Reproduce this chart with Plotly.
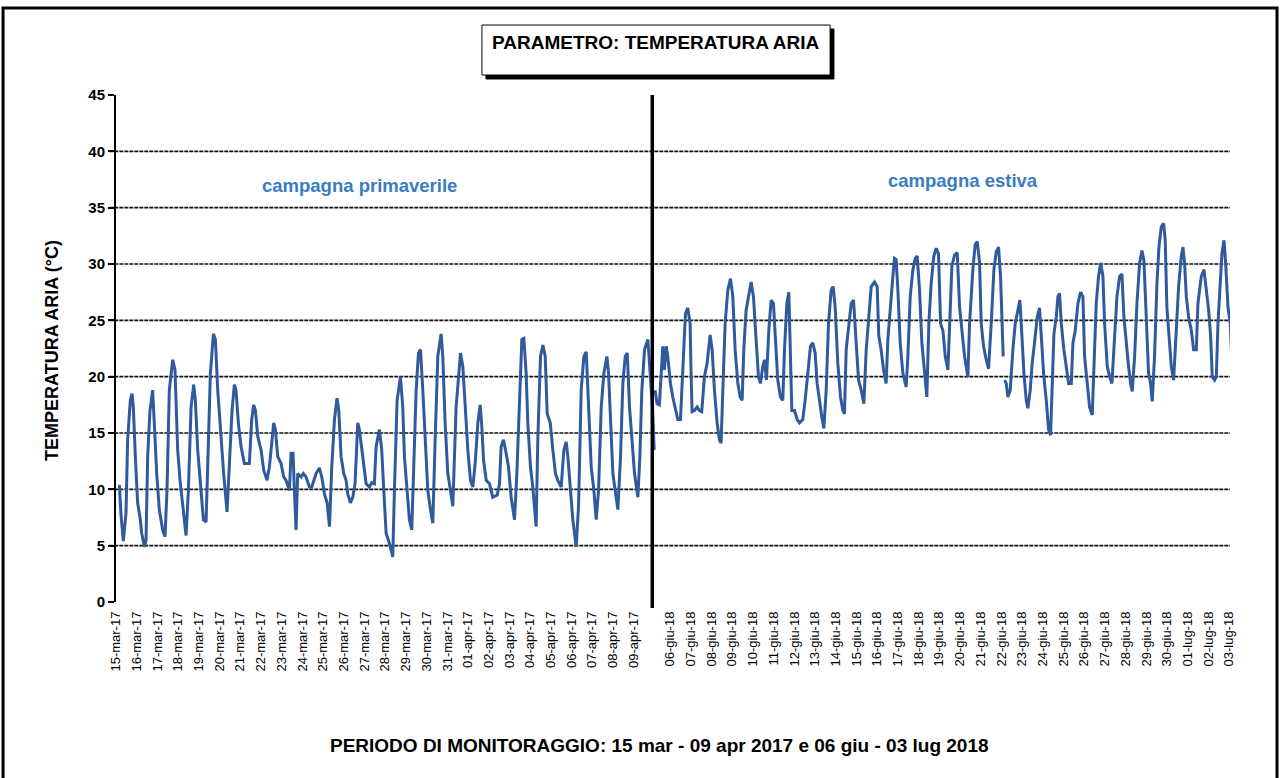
import plotly.graph_objects as go

# ---------------- data ----------------
# spring campaign: hours since 15-mar-2017 00:00, air temperature (°C)
spring_h = [3.9, 5.8, 8.5, 11.6, 13.5, 16.6, 18.6, 20.1, 22.4, 25.1, 28.2, 29.8, 32.9, 34.8, 36.7, 39.4,
            42.5, 44.4, 47.2, 50.2, 54.1, 56.8, 59.1, 61.8, 65.7, 68.4, 71.5, 74.2, 77.3, 81.2, 83.9, 87.0,
            90.1, 92.0, 94.7, 97.4, 101.3, 104.4, 106.3, 109.4, 112.9, 115.2, 117.9, 121.7, 124.8, 128.7,
            131.4, 134.5, 137.2, 139.1, 141.8, 144.9, 148.8, 154.6, 157.3, 159.6, 161.6, 164.3, 168.1,
            171.2, 175.1, 177.8, 180.5, 182.8, 184.7, 187.5, 191.3, 194.4, 197.1, 201.0, 202.9, 205.2,
            206.8, 208.7, 210.6, 214.5, 217.2, 220.3, 224.2, 226.9, 231.9, 235.8, 238.5, 241.6, 244.7,
            247.4, 250.1, 253.2, 256.2, 258.2, 260.9, 264.0, 266.7, 268.6, 271.7, 274.4, 277.1, 280.2,
            282.1, 286.0, 289.9, 293.7, 296.5, 299.5, 301.5, 305.3, 308.0, 310.4, 313.1, 316.9, 320.8,
            322.7, 325.8, 329.7, 332.4, 334.3, 337.0, 340.1, 342.8, 345.1, 347.9, 350.6, 352.9, 355.6,
            358.3, 361.4, 364.5, 367.2, 369.9, 373.0, 376.8, 378.8, 381.5, 384.6, 387.7, 390.4, 394.2,
            396.9, 399.3, 402.0, 404.7, 407.8, 410.9, 413.6, 416.3, 419.4, 422.1, 424.0, 426.0, 429.1,
            432.9, 436.7, 441.8, 444.5, 446.4, 449.1, 452.2, 454.9, 458.0, 461.9, 464.6, 467.7, 470.4,
            472.7, 475.4, 477.3, 480.4, 483.1, 487.0, 488.9, 492.0, 494.8, 497.5, 499.8, 503.3, 506.3,
            509.4, 512.1, 516.0, 519.1, 521.8, 523.7, 526.4, 529.5, 533.4, 536.1, 539.2, 542.3, 545.0,
            547.7, 550.8, 553.9, 556.6, 559.3, 562.4, 565.5, 569.0, 570.9, 573.3, 575.9, 578.6, 581.7,
            584.8, 587.5, 590.2, 592.6, 595.2, 597.9, 601.0, 604.9, 607.2, 609.5, 612.6, 616.5, 618.4,
            620.3, 622.0, 623.8]
spring_t = [10.4, 7.7, 5.4, 7.9, 14.4, 17.9, 18.5, 17.3, 12.9, 8.8, 7.3, 6.1, 4.9, 5.5, 12.9, 17.0,
            18.8, 15.9, 11.4, 8.2, 6.4, 5.8, 9.9, 18.8, 21.5, 20.6, 13.5, 10.8, 8.8, 5.9, 9.9, 17.3,
            19.3, 17.9, 13.5, 10.8, 7.3, 7.1, 11.4, 20.3, 23.8, 23.3, 18.8, 14.4, 11.4, 8.0,
            12.9, 17.0, 19.3, 18.8, 15.9, 13.8, 12.3, 12.3, 16.2, 17.5, 17.0, 14.7, 13.5,
            11.7, 10.8, 12.0, 14.1, 15.9, 15.3, 12.9, 12.3, 11.1, 10.8, 9.9, 13.2, 13.2,
            9.9, 6.4, 11.4, 11.1, 11.4, 11.1, 10.2, 10.2, 11.4, 11.9, 11.1, 9.6, 8.8,
            6.7, 12.0, 16.2, 18.1, 17.0, 12.9, 11.4, 10.8, 9.6, 8.8, 9.3, 10.5, 15.9,
            15.3, 12.9, 10.5, 10.2, 10.6, 10.5, 13.8, 15.3, 13.5, 9.9, 6.1, 5.2, 4.0,
            9.9, 17.9, 20.0, 17.3, 12.9, 9.9, 7.3, 6.4, 11.4, 18.8, 22.1, 22.4, 18.8,
            14.4, 9.9, 8.2, 7.0, 14.4, 21.8, 23.8, 21.8, 15.9, 11.4, 9.9, 8.5, 17.3,
            20.3, 22.1, 20.9, 17.3, 13.5, 10.8, 10.2, 12.3, 15.9, 17.5, 15.6, 12.6, 10.8,
            10.5, 9.3, 9.5, 10.5, 13.8, 14.4, 13.2, 12.0, 9.3, 7.3, 11.4, 18.8, 23.3,
            23.4, 20.3, 15.9, 12.0, 10.2, 6.7, 14.4, 21.8, 22.8, 21.8, 16.7, 15.9, 13.5,
            11.4, 10.8, 10.2, 13.5, 14.2, 12.9, 9.9, 7.3, 4.9, 8.5, 18.8, 21.8, 22.2,
            17.3, 12.0, 9.9, 7.3, 9.9, 17.3, 20.3, 21.8, 20.3, 15.9, 11.4, 9.9, 8.2,
            12.9, 19.4, 21.8, 22.1, 17.3, 14.1, 11.4, 9.3, 12.9, 18.8, 22.4, 23.3, 21.2,
            18.8, 17.0, 13.5]

# summer campaign: hours since 06-giu-2018 00:00, air temperature (°C); None = missing reading
summer_h = [-17.4, -15.1, -12.4, -10.4, -8.5, -6.6, -4.6, -2.7, 0.4, 3.1, 6.2, 8.9, 12.0, 14.7, 17.8,
            20.5, 23.2, 24.3, 25.5, 28.2, 31.3, 34.0, 36.7, 39.8, 42.9, 46.4, 48.7, 51.4, 54.5, 57.2,
            59.1, 61.1, 63.8, 66.9, 70.0, 72.7, 75.4, 78.5, 81.2, 83.5, 85.4, 88.1, 90.8, 93.9, 96.6,
            99.7, 102.4, 104.7, 107.4, 109.4, 111.7, 114.4, 117.1, 119.8, 122.1, 124.8, 127.9, 130.6,
            132.6, 135.3, 137.6, 139.5, 141.1, 144.2, 147.3, 150.0, 153.8, 156.5, 159.6, 162.7, 165.4,
            168.1, 170.4, 173.2, 175.9, 178.2, 180.9, 183.6, 186.7, 189.0, 191.3, 194.4, 197.5, 200.2,
            202.1, 204.1, 206.8, 209.9, 212.6, 215.7, 218.4, 221.5, 224.6, 227.3, 230.0, 233.1, 236.9,
            240.0, 241.9, 244.6, 247.4, 250.4, 252.4, 255.5, 258.2, 260.1, 262.0, 264.0, 266.7, 269.8,
            273.6, 275.6, 278.3, 281.4, 284.1, 286.4, 289.1, 291.8, 294.9, 297.6, 299.9, 302.6, 305.7,
            308.4, 311.1, 313.5, 316.2, 318.9, 322.0, 323.9, 326.6, 329.7, 332.8, 335.5, 338.2, 341.3,
            345.1, 347.1, 350.9, 353.6, 356.0, 358.7, 360.6, 363.3, 366.4, 369.1, 372.2, 375.3, 378.0,
            380.7, 383.0, 385.0, 386.1, 387.0, 387.7, 389.6, 391.5, 394.2, 397.3, 400.0, 403.1, 405.4,
            407.0, 410.1, 412.8, 414.7, 417.4, 419.7, 422.4, 425.5, 428.2, 430.1, 432.9, 436.0, 438.7,
            441.0, 442.5, 444.9, 447.6, 449.5, 451.4, 453.4, 456.4, 459.2, 461.9, 465.0, 466.9, 469.6,
            472.7, 475.8, 478.5, 480.4, 483.1, 486.2, 489.3, 492.0, 493.9, 496.6, 499.0, 501.7, 503.6,
            506.7, 509.4, 512.1, 515.2, 517.9, 521.0, 523.7, 526.0, 528.7, 531.4, 533.7, 535.7, 538.4,
            541.1, 544.2, 546.9, 549.2, 551.9, 554.6, 556.9, 558.8, 561.5, 564.3, 566.6, 569.3, 572.0,
            573.9, 575.8, 578.5, 580.9, 583.6, 586.7, 589.4, 592.5, 594.4, 596.3, 598.3, 601.0, 604.1,
            606.8, 609.9, 611.8, 615.7, 618.8, 621.5, 624.2, 626.5, 628.4, 631.1, 633.1, 635.0, 637.7,
            639.6, 642.0, 643.9, 646.6, 649.3, 650.5]
summer_t = [18.8, 17.6, 17.5, 20.3, 22.7, 20.6, 22.7, 21.8, 19.4, 18.2, 17.0, 16.2, 16.2, 20.3, 25.6,
            26.1, 24.7, 20.3, 16.9, 17.0, 17.3, 17.0, 16.9, 20.0, 21.2, 23.7, 22.4, 18.8, 15.9, 14.4,
            14.1, 18.8, 24.7, 27.7, 28.7, 27.1, 22.4, 19.4, 18.2, 17.9, 22.4, 25.9, 27.1, 28.4, 27.1,
            23.0, 20.0, 19.4, 20.9, 21.5, 19.7, 24.1, 26.8, 26.5, 23.3, 19.7, 18.2, 17.9,
            22.4, 26.5, 27.5, 21.8, 17.0, 17.0, 16.2, 15.9, 16.2, 17.9, 20.3, 22.7, 23.0,
            22.1, 19.4, 17.6, 16.4, 15.4, 18.8, 24.7, 27.7, 28.0, 26.2, 21.2, 18.2, 17.0,
            16.7, 22.4, 24.1, 26.5, 26.8, 23.3, 19.7, 18.8, 17.6, 22.4, 24.7, 28.0, 28.4,
            28.0, 23.6, 22.4, 20.6, 19.4, 23.3, 26.8, 28.9, 30.5, 30.4, 27.7, 23.0, 20.3,
            19.1, 21.8, 27.1, 29.5, 30.5, 30.7, 27.7, 23.0, 20.6, 18.2, 24.7, 28.3, 30.7,
            31.4, 30.9, 24.7, 24.1, 21.8, 20.6, 24.7, 29.8, 30.8, 31.0, 26.2, 24.1, 21.8,
            20.0, 24.7, 29.5, 31.7, 32.0, 30.1, 24.7, 22.7, 21.5, 20.7, 24.7, 29.5, 31.1,
            31.5, 28.9, 22.7, 21.8, None, 19.7, 19.4, 18.2, 18.8, 22.4, 24.7, 25.9, 26.8,
            24.7, 20.3, 17.9, 17.2, 18.8, 21.2, 23.0, 25.3, 26.1, 23.8, 20.3, 17.9, 15.3,
            14.8, 18.8, 23.8, 25.3, 27.1, 27.4, 24.7, 22.4, 20.9, 19.4, 19.4, 23.0, 24.1,
            26.5, 27.5, 27.1, 21.8, 19.7, 17.3, 16.6, 23.0, 26.5, 28.9, 30.1, 28.9, 24.7,
            20.9, 20.0, 19.4, 23.6, 27.1, 28.9, 29.1, 25.3, 22.7, 20.9, 19.4, 18.7, 21.8,
            26.5, 30.1, 31.2, 30.3, 24.7, 20.3, 19.4, 17.8, 21.8, 28.3, 31.5, 33.3, 33.6,
            32.1, 26.2, 23.0, 20.9, 19.7, 24.1, 28.0, 30.7, 31.5, 30.1, 27.1, 25.3, 24.1,
            22.4, 22.4, 26.5, 28.9, 29.5, 27.7, 25.9, 23.6, 20.0, 19.7, 20.0, 24.7, 28.9,
            30.9, 32.1, 30.1, 26.2, 24.7, 22.4]

spring_labels = ["15-mar-17", "16-mar-17", "17-mar-17", "18-mar-17", "19-mar-17", "20-mar-17",
                 "21-mar-17", "22-mar-17", "23-mar-17", "24-mar-17", "25-mar-17", "26-mar-17",
                 "27-mar-17", "28-mar-17", "29-mar-17", "30-mar-17", "31-mar-17", "01-apr-17",
                 "02-apr-17", "03-apr-17", "04-apr-17", "05-apr-17", "06-apr-17", "07-apr-17",
                 "08-apr-17", "09-apr-17"]
summer_labels = ["06-giu-18", "07-giu-18", "08-giu-18", "09-giu-18", "10-giu-18", "11-giu-18",
                 "12-giu-18", "13-giu-18", "14-giu-18", "15-giu-18", "16-giu-18", "17-giu-18",
                 "18-giu-18", "19-giu-18", "20-giu-18", "21-giu-18", "22-giu-18", "23-giu-18",
                 "24-giu-18", "25-giu-18", "26-giu-18", "27-giu-18", "28-giu-18", "29-giu-18",
                 "30-giu-18", "01-lug-18", "02-lug-18", "03-lug-18"]
y_ticks = [0, 5, 10, 15, 20, 25, 30, 35, 40, 45]
grid_levels = [5, 10, 15, 20, 25, 30, 35, 40]

# ---------------- layout helpers ----------------
SUMMER_OFFSET = 26.76   # axis position (days) of the 06-giu-18 label
DIVIDER_POS = 25.9      # axis position of the campaign divider
LINE_COLOR = "#2f5a9c"
FONT = "Liberation Sans"

spring_x = [h / 24.0 for h in spring_h]
summer_x = [SUMMER_OFFSET + h / 24.0 for h in summer_h]

tick_pos = list(range(len(spring_labels))) + [SUMMER_OFFSET + i for i in range(len(summer_labels))]
tick_txt = spring_labels + summer_labels

fig = go.Figure()
fig.add_trace(go.Scatter(x=spring_x, y=spring_t, mode="lines",
                         line=dict(color=LINE_COLOR, width=3), showlegend=False))
fig.add_trace(go.Scatter(x=summer_x, y=summer_t, mode="lines", connectgaps=False,
                         line=dict(color=LINE_COLOR, width=3), showlegend=False))

shapes = []
# horizontal dashed grid lines
for g in grid_levels:
    shapes.append(dict(type="line", xref="paper", yref="y", x0=-0.006, x1=1, y0=g, y1=g,
                       line=dict(color="#111111", width=1.6, dash="4px,1px"), layer="below"))
# campaign divider
shapes.append(dict(type="line", xref="x", yref="paper", x0=DIVIDER_POS, x1=DIVIDER_POS,
                   y0=-0.012, y1=1, line=dict(color="black", width=3.5)))
# outer frame
shapes.append(dict(type="rect", xref="paper", yref="paper", x0=-0.1014, x1=1.0422,
                   y0=-0.36, y1=1.1716, line=dict(color="black", width=3)))
# title box shadow and box
shapes.append(dict(type="rect", xref="paper", yref="paper", x0=0.3321, x1=0.6445,
                   y0=1.0316, y1=1.1302, fillcolor="black", line=dict(color="black", width=1)))
shapes.append(dict(type="rect", xref="paper", yref="paper", x0=0.3285, x1=0.641,
                   y0=1.0394, y1=1.138, fillcolor="white", line=dict(color="black", width=1)))

annotations = [
    dict(text="<b>PARAMETRO: TEMPERATURA ARIA</b>", xref="paper", yref="paper", x=0.4847, y=1.1045,
         showarrow=False, font=dict(family=FONT, size=19, color="black"), xanchor="center", yanchor="middle"),
    dict(text="<b>campagna primaverile</b>", xref="x", yref="y", x=11.74, y=37.0, showarrow=False,
         font=dict(family=FONT, size=18.5, color="#3a7cc2"), xanchor="center", yanchor="middle"),
    dict(text="<b>campagna estiva</b>", xref="x", yref="y", x=40.9, y=37.4, showarrow=False,
         font=dict(family=FONT, size=18.5, color="#3a7cc2"), xanchor="center", yanchor="middle"),
    dict(text="<b>TEMPERATURA ARIA (°C)</b>", xref="paper", yref="paper", x=-0.0575, y=0.497,
         textangle=-90, showarrow=False, font=dict(family=FONT, size=18, color="black"),
         xanchor="center", yanchor="middle"),
    dict(text="<b>PERIODO DI MONITORAGGIO: 15 mar - 09 apr 2017 e 06 giu - 03 lug 2018</b>",
         xref="paper", yref="paper", x=0.488, y=-0.284, showarrow=False,
         font=dict(family=FONT, size=19, color="black"), xanchor="center", yanchor="middle"),
]

fig.update_layout(
    width=1280, height=778,
    margin=dict(l=116, r=50, t=95, b=176),
    paper_bgcolor="white", plot_bgcolor="white",
    shapes=shapes, annotations=annotations,
    xaxis=dict(range=[0, 53.8], tickmode="array", tickvals=tick_pos, ticktext=tick_txt,
               tickangle=-90, showgrid=False, zeroline=False, showline=False, ticks="",
               ticklabelstandoff=6,
               tickfont=dict(family=FONT, size=13, color="black")),
    yaxis=dict(range=[0, 45], tickmode="array", tickvals=y_ticks, showgrid=False, zeroline=False,
               showline=True, linecolor="black", linewidth=2, ticks="outside", ticklen=6,
               tickcolor="black", tickwidth=1.5,
               tickfont=dict(family=FONT, size=15, color="black", weight="bold")),
)

fig.write_html("out.html", config={"displayModeBar": False},
               post_script="document.body.style.margin='0px';document.body.style.overflow='hidden';")
